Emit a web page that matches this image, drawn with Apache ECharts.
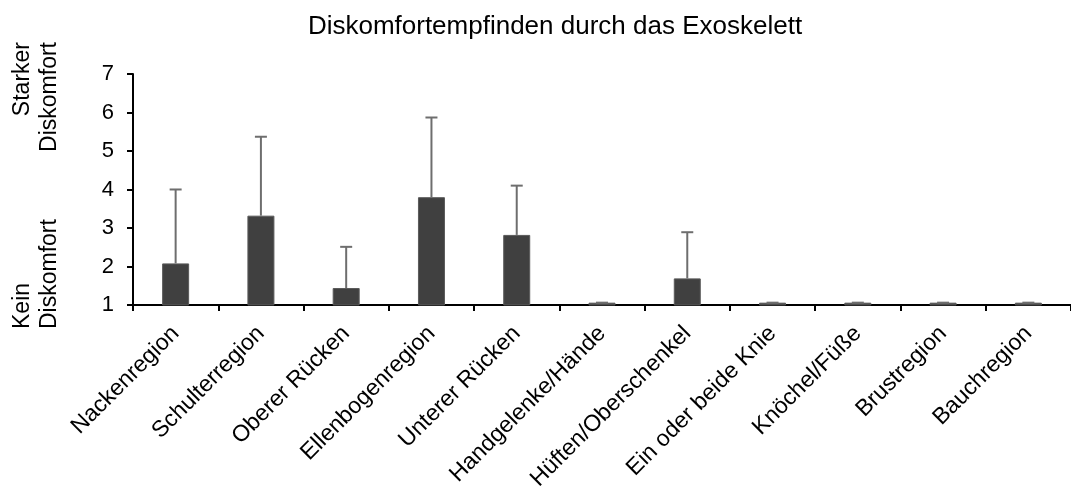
<!DOCTYPE html>
<html>
<head>
<meta charset="utf-8">
<title>Diskomfortempfinden durch das Exoskelett</title>
<script src="https://cdn.jsdelivr.net/npm/echarts@6/dist/echarts.min.js"></script>
<style>
  html, body { margin: 0; padding: 0; background: #fff; }
  #chart { width: 1071px; height: 493px; }
</style>
</head>
<body>
<div id="chart"></div>
<script>
// Body regions rated for discomfort while wearing the exoskeleton
const regions = [
  'Nackenregion', 'Schulterregion', 'Oberer Rücken', 'Ellenbogenregion',
  'Unterer Rücken', 'Handgelenke/Hände', 'Hüften/Oberschenkel',
  'Ein oder beide Knie', 'Knöchel/Füße', 'Brustregion', 'Bauchregion'
];
// Mean rating (1 = kein, 7 = starker Diskomfort)
const meanRating = [2.08, 3.32, 1.44, 3.8, 2.82, 1.06, 1.69, 1.06, 1.06, 1.06, 1.06];
// Standard deviation, drawn as upper error bar
const sdRating = [1.92, 2.05, 1.07, 2.07, 1.28, 0, 1.2, 0, 0, 0, 0];
// Rating scale ticks
const scaleTicks = [1, 2, 3, 4, 5, 6, 7];

const FONT = '"Liberation Sans", Arial, sans-serif';

const chart = echarts.init(document.getElementById('chart'), null, { renderer: 'canvas' });

const errorData = meanRating.map((m, i) => [i, m, m + sdRating[i]]);

chart.setOption({
  animation: false,
  backgroundColor: '#ffffff',
  grid: { left: 133, top: 74, width: 944, height: 233, containLabel: false },
  graphic: [
    {
      type: 'text', x: 555, y: 27,
      style: {
        text: 'Diskomfortempfinden durch das Exoskelett',
        font: '26px ' + FONT, fill: '#000', align: 'center', verticalAlign: 'middle'
      }
    },
    {
      type: 'text', x: 36, y: 42, rotation: Math.PI / 2,
      style: {
        text: 'Starker\nDiskomfort', font: '23px ' + FONT, lineHeight: 27,
        fill: '#000', align: 'right', verticalAlign: 'middle'
      }
    },
    {
      type: 'text', x: 36, y: 329, rotation: Math.PI / 2,
      style: {
        text: 'Kein\nDiskomfort', font: '23px ' + FONT, lineHeight: 27,
        fill: '#000', align: 'left', verticalAlign: 'middle'
      }
    }
  ],
  xAxis: {
    type: 'category',
    data: regions,
    boundaryGap: true,
    axisLine: { lineStyle: { color: '#000', width: 2 } },
    axisTick: { show: true, length: 6, inside: false, alignWithLabel: false, lineStyle: { color: '#000', width: 2 } },
    axisLabel: {
      rotate: 45, margin: 25, interval: 0,
      fontFamily: FONT, fontSize: 23, color: '#000'
    },
    splitLine: { show: false }
  },
  yAxis: {
    type: 'value',
    min: scaleTicks[0], max: scaleTicks[scaleTicks.length - 1], interval: 1,
    axisLine: { show: true, lineStyle: { color: '#000', width: 2 } },
    axisTick: { show: true, length: 6, lineStyle: { color: '#000', width: 2 } },
    axisLabel: { margin: 19, fontFamily: FONT, fontSize: 22, color: '#000' },
    splitLine: { show: false }
  },
  series: [
    {
      type: 'bar',
      data: meanRating,
      barWidth: 27,
      itemStyle: { color: '#404040', borderColor: '#5a5a5a', borderWidth: 1 },
      z: 2
    },
    {
      type: 'custom',
      data: errorData,
      z: 3,
      renderItem: function (params, api) {
        const base = api.coord([api.value(0), api.value(1)]);
        const top = api.coord([api.value(0), api.value(2)]);
        const half = 6;
        const style = { stroke: '#6e6e6e', lineWidth: 2 };
        return {
          type: 'group',
          children: [
            { type: 'line', shape: { x1: base[0], y1: base[1], x2: top[0], y2: top[1] }, style: style },
            { type: 'line', shape: { x1: top[0] - half, y1: top[1], x2: top[0] + half, y2: top[1] }, style: style }
          ]
        };
      }
    }
  ]
});
</script>
</body>
</html>
